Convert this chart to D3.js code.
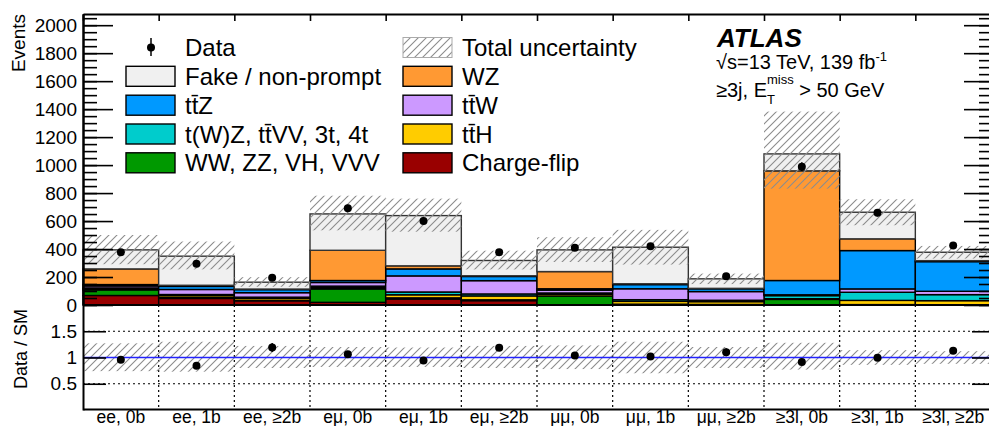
<!DOCTYPE html>
<html>
<head>
<meta charset="utf-8">
<script src="https://cdn.jsdelivr.net/npm/d3@7"></script>
<style>
  body { margin: 0; background: #fff; }
  svg { font-family: "Liberation Sans", Arial, Helvetica, sans-serif; }
</style>
</head>
<body>
<svg id="chart" width="989" height="426"></svg>
<script>
// regions (x axis categories)
const bins = ["ee, 0b", "ee, 1b", "ee, ≥2b", "eμ, 0b", "eμ, 1b", "eμ, ≥2b",
              "μμ, 0b", "μμ, 1b", "μμ, ≥2b", "≥3l, 0b", "≥3l, 1b", "≥3l, ≥2b"];

// stacked backgrounds, bottom to top
const chargeFlip = [68, 47, 30, 19, 43, 31, 0, 0, 0, 0, 0, 0];
const dibosonVVV = [40, 6, 4, 96, 8, 6, 64, 6, 4, 40, 3, 2];
const ttH        = [8, 14, 14, 10, 22, 28, 12, 20, 20, 5, 30, 29];
const tWZother   = [6, 8, 8, 10, 20, 14, 10, 12, 10, 22, 58, 43];
const ttW        = [14, 36, 32, 26, 115, 95, 20, 78, 62, 6, 24, 24];
const ttZ        = [10, 22, 22, 14, 50, 30, 10, 30, 20, 102, 274, 212];
const wz         = [112, 8, 4, 216, 22, 5, 123, 6, 3, 784, 84, 7];
const fake       = [136, 208, 49, 260, 359, 109, 155, 261, 68, 121, 190, 60];

// observed events
const data = [377, 294, 194, 691, 601, 377, 409, 420, 206, 989, 659, 425];

// relative total uncertainty (up / down)
const relUp = [0.27, 0.30, 0.22, 0.20, 0.19, 0.22, 0.23, 0.30, 0.20, 0.28, 0.14, 0.12];
const relDn = [0.26, 0.27, 0.20, 0.18, 0.18, 0.20, 0.22, 0.30, 0.20, 0.23, 0.14, 0.12];

const yTicks = [0, 200, 400, 600, 800, 1000, 1200, 1400, 1600, 1800, 2000];
const ratioTicks = [0.5, 1, 1.5];

const layers = [
    {name: "Charge-flip", values: chargeFlip, color: "#990000"},
    {name: "WW, ZZ, VH, VVV", values: dibosonVVV, color: "#009900"},
    {name: "tt\u0304H", values: ttH, color: "#ffcc00"},
    {name: "t(W)Z, tt\u0304VV, 3t, 4t", values: tWZother, color: "#00cccc"},
    {name: "tt\u0304W", values: ttW, color: "#cc99ff"},
    {name: "tt\u0304Z", values: ttZ, color: "#0099ff"},
    {name: "WZ", values: wz, color: "#ff9933"},
    {name: "Fake / non-prompt", values: fake, color: "#f0f0f0"}
];

const svg = d3.select("#chart");
const pLeft = 83, pRight = 991, pTop = 14, pMid = 305, pBottom = 409;

const xe = d3.scaleLinear().domain([0, bins.length]).range([pLeft, pRight]);
const xb = d3.scaleBand().domain(bins).range([pLeft, pRight]);
const y = d3.scaleLinear().domain([0, 2080]).range([pMid, pTop]);
const yr = d3.scaleLinear().domain([0, 2]).range([pBottom + 1, pMid]);

// hatch pattern
const defs = svg.append("defs");
defs.append("pattern")
    .attr("id", "hatch")
    .attr("patternUnits", "userSpaceOnUse")
    .attr("width", 8).attr("height", 8)
    .append("path")
    .attr("d", "M-2,2 L2,-2 M0,8 L8,0 M6,10 L10,6")
    .attr("stroke", "#8c8c8c")
    .attr("stroke-width", 1.1);

// stack
const stackInput = bins.map((b, i) => {
    const row = {bin: b};
    layers.forEach(l => row[l.name] = l.values[i]);
    return row;
});
const stacked = d3.stack().keys(layers.map(l => l.name))(stackInput);
const totals = bins.map((b, i) => d3.sum(layers, l => l.values[i]));

const gStack = svg.append("g");
stacked.forEach((series, k) => {
    gStack.append("g")
        .selectAll("rect")
        .data(series)
        .join("rect")
        .attr("x", d => xb(d.data.bin))
        .attr("width", xb.bandwidth())
        .attr("y", d => y(d[1]))
        .attr("height", d => y(d[0]) - y(d[1]))
        .attr("fill", layers[k].color)
        .attr("stroke", k === layers.length - 1 ? "#333" : "#000")
        .attr("stroke-width", 1.4);
});

// uncertainty band (upper)
svg.append("g")
    .selectAll("rect")
    .data(bins)
    .join("rect")
    .attr("x", d => xb(d))
    .attr("width", xb.bandwidth())
    .attr("y", (d, i) => y(totals[i] * (1 + relUp[i])))
    .attr("height", (d, i) => y(totals[i] * (1 - relDn[i])) - y(totals[i] * (1 + relUp[i])))
    .attr("fill", "url(#hatch)");

// data points (upper)
const gData = svg.append("g");
bins.forEach((b, i) => {
    const cx = xb(b) + xb.bandwidth() / 2;
    const err = Math.sqrt(data[i]);
    gData.append("line")
        .attr("x1", cx).attr("x2", cx)
        .attr("y1", y(data[i] - err)).attr("y2", y(data[i] + err))
        .attr("stroke", "#000").attr("stroke-width", 1.5);
    gData.append("circle")
        .attr("cx", cx).attr("cy", y(data[i])).attr("r", 4)
        .attr("fill", "#000");
});

// ratio panel
const gRatio = svg.append("g");
gRatio.selectAll("line.hgrid")
    .data([0.5, 1.5])
    .join("line")
    .attr("x1", pLeft).attr("x2", pRight)
    .attr("y1", d => yr(d)).attr("y2", d => yr(d))
    .attr("stroke", "#000").attr("stroke-width", 1.2)
    .attr("stroke-dasharray", "2,3");
gRatio.selectAll("line.vgrid")
    .data(d3.range(1, bins.length))
    .join("line")
    .attr("x1", d => xe(d)).attr("x2", d => xe(d))
    .attr("y1", pMid).attr("y2", pBottom)
    .attr("stroke", "#000").attr("stroke-width", 1.2)
    .attr("stroke-dasharray", "2,3");
gRatio.selectAll("rect")
    .data(bins)
    .join("rect")
    .attr("x", d => xb(d))
    .attr("width", xb.bandwidth())
    .attr("y", (d, i) => yr(1 + relUp[i]))
    .attr("height", (d, i) => yr(1 - relDn[i]) - yr(1 + relUp[i]))
    .attr("fill", "url(#hatch)");
gRatio.append("line")
    .attr("x1", pLeft).attr("x2", pRight)
    .attr("y1", yr(1)).attr("y2", yr(1))
    .attr("stroke", "#2222ff").attr("stroke-width", 1.6);
bins.forEach((b, i) => {
    const cx = xb(b) + xb.bandwidth() / 2;
    const r = data[i] / totals[i];
    const e = Math.sqrt(data[i]) / totals[i];
    gRatio.append("line")
        .attr("x1", cx).attr("x2", cx)
        .attr("y1", yr(r - e)).attr("y2", yr(r + e))
        .attr("stroke", "#000").attr("stroke-width", 1.5);
    gRatio.append("circle")
        .attr("cx", cx).attr("cy", yr(r)).attr("r", 4)
        .attr("fill", "#000");
});

// axes
function styleAxis(g, fontSize) {
    g.selectAll("path.domain").attr("stroke", "#000").attr("stroke-width", 2);
    g.selectAll(".tick line").attr("stroke", "#000").attr("stroke-width", 1.6);
    g.selectAll(".tick text").attr("font-size", fontSize).attr("fill", "#000")
        .attr("font-family", "Liberation Sans, Arial, sans-serif");
}

svg.append("g").attr("transform", `translate(${pLeft},0)`)
    .call(d3.axisLeft(y).tickValues(d3.range(0, 2080, 50)).tickSize(-14).tickFormat("").tickSizeOuter(0))
    .call(g => styleAxis(g, 19));
svg.append("g").attr("transform", `translate(${pLeft},0)`)
    .call(d3.axisLeft(y).tickValues(yTicks).tickSize(-30).tickPadding(6)
        .tickFormat(d3.format("d")).tickSizeOuter(0))
    .call(g => styleAxis(g, 19));
svg.append("g").attr("transform", `translate(${pRight},0)`)
    .call(d3.axisRight(y).tickValues(yTicks).tickSize(-27).tickFormat("").tickSizeOuter(0))
    .call(g => styleAxis(g, 19));
svg.append("g").attr("transform", `translate(${pRight},0)`)
    .call(d3.axisRight(y).tickValues(d3.range(0, 2080, 50)).tickSize(-12).tickFormat("").tickSizeOuter(0))
    .call(g => styleAxis(g, 19));
svg.append("g").attr("transform", `translate(0,${pTop})`)
    .call(d3.axisTop(xe).tickValues(d3.range(0, bins.length + 1)).tickSize(-7).tickFormat("").tickSizeOuter(0))
    .call(g => styleAxis(g, 19));

// ratio axis
svg.append("g").attr("transform", `translate(${pLeft},0)`)
    .call(d3.axisLeft(yr).tickValues(ratioTicks).tickSize(-23).tickPadding(6)
        .tickFormat(d => String(d)).tickSizeOuter(0))
    .call(g => styleAxis(g, 19));
svg.append("g").attr("transform", `translate(${pRight},0)`)
    .call(d3.axisRight(yr).tickValues(ratioTicks).tickSize(-19).tickFormat("").tickSizeOuter(0))
    .call(g => styleAxis(g, 19));

const xAxis = svg.append("g").attr("transform", `translate(0,${pBottom})`)
    .call(d3.axisBottom(xb).tickSize(0).tickPadding(0).tickSizeOuter(0))
    .call(g => styleAxis(g, 17.5));
xAxis.selectAll(".tick text").attr("dy", null).attr("y", 13.5);

// panel separator
svg.append("line")
    .attr("x1", pLeft).attr("x2", pRight)
    .attr("y1", pMid).attr("y2", pMid)
    .attr("stroke", "#000").attr("stroke-width", 2.2);

// axis titles
svg.append("text")
    .attr("transform", `translate(25,${pTop}) rotate(-90)`)
    .attr("text-anchor", "end")
    .attr("font-size", 19)
    .text("Events");
svg.append("text")
    .attr("transform", `translate(27,349) rotate(-90)`)
    .attr("text-anchor", "middle")
    .attr("font-size", 18)
    .text("Data / SM");

// legend
const leftLegend = ["Fake / non-prompt", "tt\u0304Z", "t(W)Z, tt\u0304VV, 3t, 4t", "WW, ZZ, VH, VVV"];
const rightLegend = ["WZ", "tt\u0304W", "tt\u0304H", "Charge-flip"];
const rowY = [47.5, 76.3, 105.2, 134, 162.8];
const gLeg = svg.append("g").attr("font-size", 24);

gLeg.append("line").attr("x1", 151).attr("x2", 151).attr("y1", 38).attr("y2", 56)
    .attr("stroke", "#000").attr("stroke-width", 1.5);
gLeg.append("circle").attr("cx", 151).attr("cy", 47.5).attr("r", 4).attr("fill", "#000");
gLeg.append("text").attr("x", 185).attr("y", rowY[0] + 8.5).text("Data");

gLeg.append("rect").attr("x", 403).attr("y", rowY[0] - 10).attr("width", 49).attr("height", 20)
    .attr("fill", "url(#hatch)").attr("stroke", "#aaa").attr("stroke-width", 1);
gLeg.append("text").attr("x", 462).attr("y", rowY[0] + 8.5).text("Total uncertainty");

function legendColumn(names, bx, tx) {
    names.forEach((n, i) => {
        const layer = layers.find(l => l.name === n);
        gLeg.append("rect").attr("x", bx).attr("y", rowY[i + 1] - 10)
            .attr("width", 49).attr("height", 20)
            .attr("fill", layer.color).attr("stroke", "#000").attr("stroke-width", 1.4);
        gLeg.append("text").attr("x", tx).attr("y", rowY[i + 1] + 8.5).text(n);
    });
}
legendColumn(leftLegend, 126, 185);
legendColumn(rightLegend, 403, 462);

// ATLAS label
svg.append("text")
    .attr("x", 717).attr("y", 46.5)
    .attr("font-size", 26).attr("font-weight", "bold").attr("font-style", "italic")
    .text("ATLAS");
const l1 = svg.append("text").attr("x", 716).attr("y", 68.5).attr("font-size", 20);
l1.append("tspan").text("√s=13 TeV, 139 fb");
l1.append("tspan").attr("dy", -8).attr("font-size", 13).text("-1");
const l2 = svg.append("text").attr("x", 716).attr("y", 96.5).attr("font-size", 20);
l2.append("tspan").text("≥3j, E");
l2.append("tspan").attr("dy", 7).attr("font-size", 13).text("T");
l2.append("tspan").attr("dx", -8).attr("dy", -20).attr("font-size", 13).text("miss");
l2.append("tspan").attr("dy", 13).text(" > 50 GeV");
</script>
</body>
</html>
